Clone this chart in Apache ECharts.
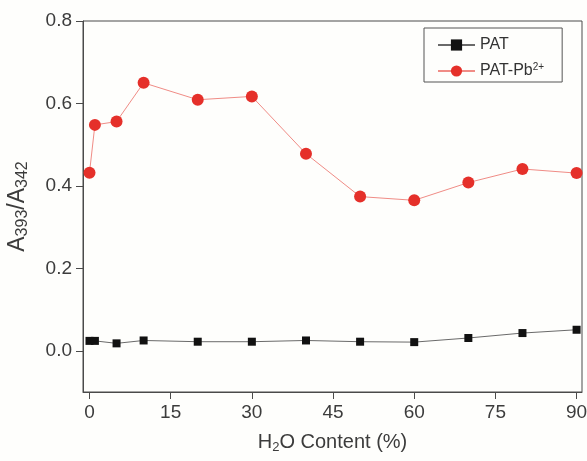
<!DOCTYPE html>
<html>
<head>
<meta charset="utf-8">
<script src="https://cdn.jsdelivr.net/npm/echarts@6/dist/echarts.min.js"></script>
<style>
  html, body { margin: 0; padding: 0; background: #fefefc; }
  #chart { width: 587px; height: 461px; }
</style>
</head>
<body>
<div id="chart"></div>
<script>
// H2O content (%) in the solvent mixture
const waterContent = [0, 1, 5, 10, 20, 30, 40, 50, 60, 70, 80, 90];
// Absorbance ratio A393/A342 for the free probe
const patValues = [0.024, 0.024, 0.018, 0.025, 0.022, 0.022, 0.025, 0.022, 0.021, 0.031, 0.043, 0.051];
// Absorbance ratio A393/A342 with Pb2+ added
const patPbValues = [0.432, 0.548, 0.556, 0.650, 0.609, 0.617, 0.478, 0.374, 0.365, 0.408, 0.441, 0.431];
// Tick labels
const xTicks = [0, 15, 30, 45, 60, 75, 90];
const yTicks = [0, 0.2, 0.4, 0.6, 0.8];

const FONT = '"Liberation Sans", Arial, sans-serif';
const AXIS_COLOR = '#4a4a4a';
const TEXT_COLOR = '#3c3c3c';

const pair = (xs, ys) => xs.map((x, i) => [x, ys[i]]);

const chart = echarts.init(document.getElementById('chart'), null, { renderer: 'canvas' });

chart.setOption({
  backgroundColor: '#fefefc',
  animation: false,
  grid: {
    left: 83, right: 5, top: 21, bottom: 69,
    outerBoundsMode: 'none',
    containLabel: false,
    show: true, borderColor: AXIS_COLOR, borderWidth: 1, backgroundColor: 'transparent'
  },
  legend: {
    orient: 'vertical',
    left: 424, top: 28,
    padding: [9, 18, 3, 13],
    itemGap: 9,
    itemWidth: 37, itemHeight: 14,
    borderColor: '#555', borderWidth: 1,
    textStyle: {
      fontFamily: FONT, fontSize: 16, color: '#333',
      rich: {
        sup: { fontFamily: FONT, fontSize: 10, color: '#333', verticalAlign: 'top', padding: [0, 0, 8, 0] }
      }
    },
    formatter: name => name === 'PAT-Pb2+' ? 'PAT-Pb{sup|2+}' : name,
    data: ['PAT', 'PAT-Pb2+']
  },
  xAxis: {
    type: 'value', min: -1.2, max: 91,
    name: 'H{sub|2}O Content (%)',
    nameLocation: 'middle', nameGap: 39,
    nameTextStyle: {
      fontFamily: FONT, fontSize: 20, color: TEXT_COLOR,
      rich: { sub: { fontFamily: FONT, fontSize: 13, color: TEXT_COLOR, verticalAlign: 'bottom', padding: [10, 0, 0, 0] } }
    },
    axisLine: { onZero: false, lineStyle: { color: AXIS_COLOR, width: 1 } },
    axisTick: { show: true, length: 7, inside: false, lineStyle: { color: AXIS_COLOR }, customValues: xTicks },
    axisLabel: { fontFamily: FONT, fontSize: 19, color: TEXT_COLOR, margin: 11, customValues: xTicks },
    splitLine: { show: false }
  },
  yAxis: {
    type: 'value', min: -0.1, max: 0.8,
    name: 'A{sub|393}/A{sub|342}',
    nameLocation: 'middle', nameGap: 52,
    nameTextStyle: {
      fontFamily: FONT, fontSize: 23, color: TEXT_COLOR,
      rich: { sub: { fontFamily: FONT, fontSize: 16, color: TEXT_COLOR, verticalAlign: 'bottom', padding: [11, 0, 0, 0] } }
    },
    axisLine: { show: true, onZero: false, lineStyle: { color: AXIS_COLOR, width: 1 } },
    axisTick: { show: true, length: 7, inside: false, lineStyle: { color: AXIS_COLOR }, customValues: yTicks },
    axisLabel: { fontFamily: FONT, fontSize: 19, color: TEXT_COLOR, margin: 11, customValues: yTicks,
      formatter: v => v.toFixed(1) },
    splitLine: { show: false }
  },
  series: [
    {
      name: 'PAT', type: 'line',
      data: pair(waterContent, patValues),
      symbol: 'rect', symbolSize: 8,
      itemStyle: { color: '#111' },
      lineStyle: { color: '#6a6a6a', width: 1 },
      z: 3
    },
    {
      name: 'PAT-Pb2+', type: 'line',
      data: pair(waterContent, patPbValues),
      symbol: 'circle', symbolSize: 12,
      itemStyle: { color: '#e5302a' },
      lineStyle: { color: '#f08c86', width: 1 },
      z: 4
    }
  ]
});
</script>
</body>
</html>
